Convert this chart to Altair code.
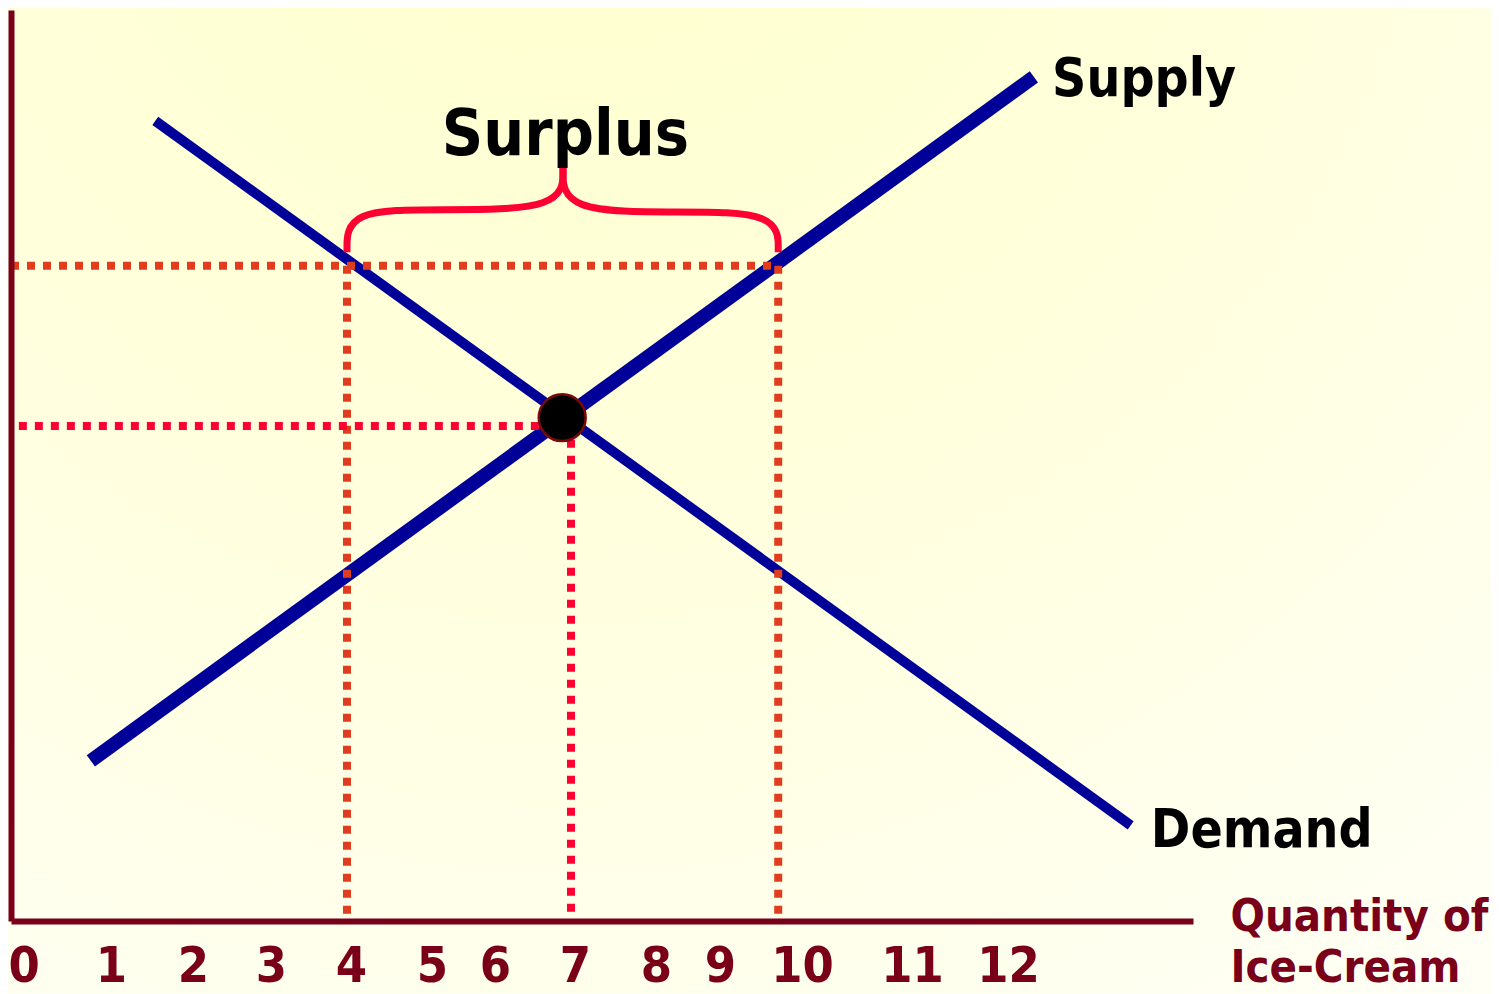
import altair as alt
import pandas as pd

# ---------------- data ----------------
# quantity tick values shown under the axis (labels are unevenly spaced in the original)
tick_values = [0, 1, 2, 3, 4, 5, 6, 7, 8, 9, 10, 11, 12]
# knots of the (piecewise) quantity scale and where they sit along the axis
x_knots = [-0.04, 0, 1, 2, 3, 4, 5, 6, 7, 8, 9, 10, 11, 12, 13.93]
x_knot_px = [0, 4, 100, 182, 260, 340, 421, 484, 564, 645, 709, 791, 901, 997, 1182]
price_domain = [0, 12]

# supply and demand curves (end points: quantity, price)
supply_q = [0.79, 12.27]
supply_p = [2.11, 11.12]
demand_q = [1.54, 13.28]
demand_p = [10.54, 1.26]

# equilibrium point
eq_q = [6.84]
eq_p = [6.63]

# dotted guide lines
guide_q1 = [-0.04, 3.95, 9.71, 0.04, 6.95]
guide_q2 = [9.71, 3.95, 9.71, 6.56, 6.95]
guide_p1 = [8.63, 8.63, 8.63, 6.52, 6.34]
guide_p2 = [8.63, 0.0, 0.0, 6.52, 0.0]
guide_kind = ["high", "high", "high", "eq", "eq"]

# surplus brace (control points of the two halves)
brace_half = ["L"] * 5 + ["R"] * 5
brace_i = [0, 1, 2, 3, 4] * 2
brace_q = [3.95, 3.95, 5.13, 6.85, 6.85,
           6.85, 6.85, 8.38, 9.71, 9.71]
brace_p = [8.81, 9.37, 9.37, 9.37, 9.92,
           9.92, 9.34, 9.34, 9.34, 8.81]

# curve labels
curve_label = ["Supply", "Demand"]
curve_label_q = [12.46, 13.49]
curve_label_p = [10.87, 0.97]
surplus_label = ["Surplus"]
surplus_q = [6.88]
surplus_p = [10.09]

axis_title = ["Quantity of", "Ice-Cream"]

# ---------------- styling ----------------
W, H = 1182, 911
FONT = "DejaVu Sans Condensed"
DARKRED = "#7A0019"
NAVY = "#000099"

xscale = alt.Scale(domain=x_knots, range=x_knot_px, nice=False, zero=False)
yscale = alt.Scale(domain=price_domain, nice=False, zero=False)

xaxis = alt.Axis(
    values=tick_values, format="d", ticks=False, grid=False, zindex=2,
    domainColor=DARKRED, domainWidth=6,
    labelColor=DARKRED, labelFont=FONT, labelFontSize=50, labelFontWeight="bold",
    labelBaseline="alphabetic", labelPadding=60,
    labelAlign={"condition": {"test": "datum.value === 0", "value": "left"},
                "value": "center"},
    labelOffset={"condition": {"test": "datum.value === 0", "value": -7},
                 "value": 0},
    labelFlush=False, labelOverlap=False, labelBound=False,
    title=axis_title, titleColor=DARKRED, titleFont=FONT, titleFontSize=45,
    titleFontWeight="bold", titleAlign="left", titleBaseline="alphabetic",
    titleAngle=0, titleX=1219, titleY=9, titleLineHeight=51,
)
yaxis = alt.Axis(ticks=False, labels=False, grid=False, title=None, zindex=2,
                 domainColor=DARKRED, domainWidth=6)


def X(field):
    return alt.X(field, type="quantitative", scale=xscale, axis=xaxis)


def Y(field):
    return alt.Y(field, type="quantitative", scale=yscale, axis=yaxis)


PAD = {"left": 3, "top": 2, "right": 298, "bottom": 73}

# background
bg = alt.Chart(pd.DataFrame({"k": [0]})).mark_rect(
    fill=alt.RadialGradient(
        gradient="radial", x1=0.38, y1=0.0, r1=0.0, x2=0.38, y2=0.0, r2=1.0,
        stops=[alt.GradientStop(offset=0, color="#FFFFCC"),
               alt.GradientStop(offset=0.5, color="#FFFFDD"),
               alt.GradientStop(offset=1, color="#FFFFF5")]),
    strokeWidth=0,
).encode(x=alt.value(-3), x2=alt.value(W + 298), y=alt.value(-2), y2=alt.value(H + 73))

# guides
guides_df = pd.DataFrame({"q1": guide_q1, "q2": guide_q2, "p1": guide_p1,
                          "p2": guide_p2, "kind": guide_kind})
guides = alt.Chart(guides_df).mark_rule(
    strokeDash=[8, 8], strokeWidth=8, strokeCap="butt"
).encode(
    x=X("q1"), x2="q2", y=Y("p1"), y2="p2",
    color=alt.Color("kind:N", scale=alt.Scale(domain=["high", "eq"],
                                              range=["#E03C1E", "#FF0033"]), legend=None),
)

# curves
curves_df = pd.DataFrame({
    "series": ["Supply"] * 2 + ["Demand"] * 2,
    "i": [0, 1, 0, 1],
    "q": supply_q + demand_q,
    "p": supply_p + demand_p,
})
curves = alt.Chart(curves_df).mark_line(color=NAVY, strokeCap="butt").encode(
    x=X("q"), y=Y("p"), detail="series:N", order="i:Q",
    strokeWidth=alt.StrokeWidth("series:N",
                                scale=alt.Scale(domain=["Supply", "Demand"], range=[14, 10]),
                                legend=None),
)

# brace
brace_df = pd.DataFrame({"half": brace_half, "i": brace_i, "q": brace_q, "p": brace_p})
brace = alt.Chart(brace_df).mark_line(
    interpolate="basis", color="#FF0033", strokeWidth=7, strokeCap="butt"
).encode(x=X("q"), y=Y("p"), detail="half:N", order="i:Q")

# equilibrium point
eq_df = pd.DataFrame({"q": eq_q, "p": eq_p})
point = alt.Chart(eq_df).mark_point(
    shape="circle", filled=True, size=2200, fill="black", stroke="#7A0A0A",
    strokeWidth=2.5, opacity=1
).encode(x=X("q"), y=Y("p"))

# labels
curve_lab_df = pd.DataFrame({"t": curve_label, "q": curve_label_q, "p": curve_label_p})
curve_labels = alt.Chart(curve_lab_df).mark_text(
    font=FONT, fontSize=53, fontWeight="bold", color="black",
    align="left", baseline="alphabetic"
).encode(x=X("q"), y=Y("p"), text="t:N")

surplus_df = pd.DataFrame({"t": surplus_label, "q": surplus_q, "p": surplus_p})
surplus_text = alt.Chart(surplus_df).mark_text(
    font=FONT, fontSize=64, fontWeight="bold", color="black",
    align="center", baseline="alphabetic"
).encode(x=X("q"), y=Y("p"), text="t:N")

chart = alt.layer(
    bg, curves, guides, brace, point, curve_labels, surplus_text
).properties(
    width=W, height=H,
    autosize=alt.AutoSizeParams(type="none"),
    padding=PAD,
    background="#FFFFF8",
).configure_view(stroke=None)

chart.save("out.html", embed_options={"renderer": "svg", "actions": False})
